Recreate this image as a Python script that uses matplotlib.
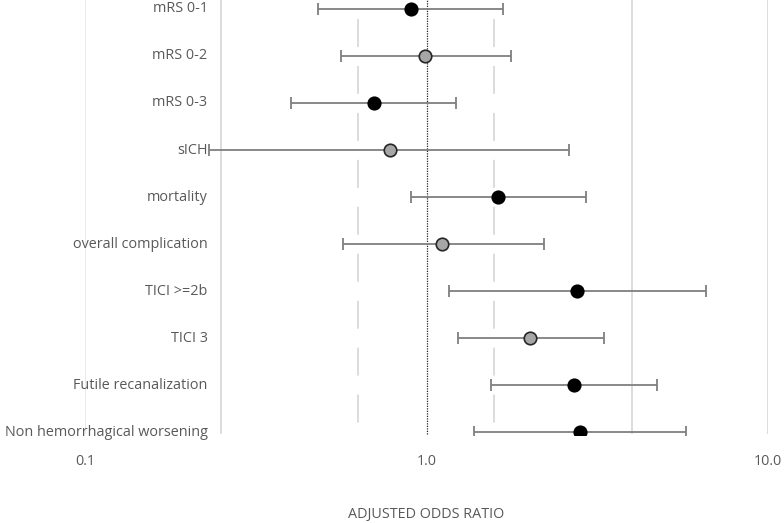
import numpy as np
import matplotlib.pyplot as plt
from matplotlib.transforms import blended_transform_factory

outcomes = ['mRS 0-1', 'mRS 0-2', 'mRS 0-3', 'sICH', 'mortality',
            'overall complication', 'TICI >=2b', 'TICI 3',
            'Futile recanalization', 'Non hemorrhagical worsening']
odds_ratio = [0.90, 0.99, 0.70, 0.78, 1.62, 1.11, 2.75, 2.01, 2.71, 2.82]
ci_low = [0.48, 0.56, 0.40, 0.23, 0.90, 0.57, 1.16, 1.24, 1.55, 1.38]
ci_high = [1.68, 1.77, 1.22, 2.62, 2.94, 2.21, 6.58, 3.30, 4.74, 5.76]
grey_marker = [False, True, False, True, False, True, False, True, False, False]

x_ticks = [0.1, 1.0, 10.0]
solid_refs = [0.25, 4.0, 10.0]
dashed_refs = [0.63, 1.58]

txt_col = '#595959'
fsize = 10.4
plt.rcParams['font.family'] = ['Open Sans', 'DejaVu Sans']

dpi = 100
fig = plt.figure(figsize=(784 / dpi, 523 / dpi), dpi=dpi, facecolor='w')
ax = fig.add_axes([85 / 784, 88 / 523, 683 / 784, 435 / 523])

ax.set_xscale('log')
ax.set_xlim(0.1, 10)
ax.set_ylim(9.06, -0.19)

# reference lines
ax.axvline(0.1, ymin=0.005, color='#e6e6e6', lw=1.2, zorder=0)
for v in solid_refs:
    ax.axvline(v, ymin=0.005, color='#d9d9d9', lw=1.3, zorder=0)
for v in dashed_refs:
    # drawn top-down so the dash pattern starts at the top
    ax.plot([v, v], [0.21, 9.02], color='#d9d9d9', lw=1.3,
            dashes=(15.5, 10.5), zorder=0)
ax.axvline(1.0, ymin=-0.01, color='#222222', lw=0.9, ls=(0, (1, 1)),
           zorder=1)

y = np.arange(len(outcomes))
or_arr = np.array(odds_ratio)
err = [or_arr - np.array(ci_low), np.array(ci_high) - or_arr]
ax.errorbar(or_arr, y, xerr=err, fmt='none', ecolor='#7f7f7f',
            elinewidth=1.3, capsize=4, capthick=1.3, zorder=2)

for xi, yi, g in zip(odds_ratio, y, grey_marker):
    ax.plot(xi, yi, 'o', ms=9, mfc='#a6a6a6' if g else 'black',
            mec='#262626' if g else 'black', mew=1.2, zorder=3)

trans = blended_transform_factory(ax.transData, ax.transData)
for name, yi in zip(outcomes, y):
    ax.text(0.2285, yi, name, ha='right', va='center', fontsize=fsize,
            color=txt_col, clip_on=False, transform=trans)

ax.set_xticks(x_ticks)
ax.set_xticklabels([f'{t:.1f}' for t in x_ticks])
ax.xaxis.set_minor_locator(plt.NullLocator())
ax.tick_params(axis='x', length=0, pad=14, labelsize=fsize, colors=txt_col)
ax.set_yticks([])
for s in ax.spines.values():
    s.set_visible(False)

ax.set_xlabel('ADJUSTED ODDS RATIO', fontsize=fsize, color=txt_col,
              labelpad=27)

plt.savefig('out.png', dpi=dpi, facecolor='w')
